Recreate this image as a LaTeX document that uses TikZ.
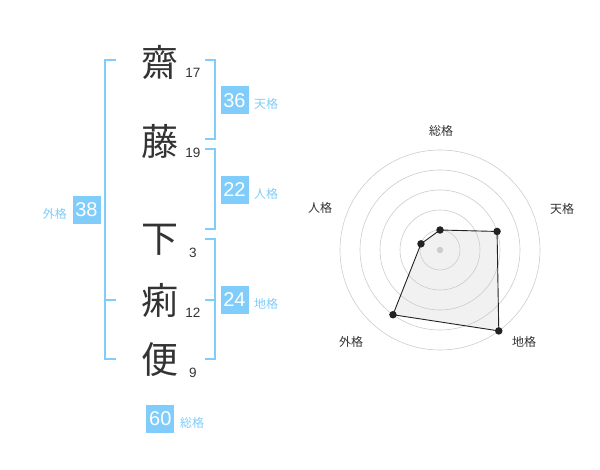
\documentclass[tikz,border=0pt]{standalone}
\usepackage{fontspec}
\setmainfont{Noto Sans CJK JP}
\newfontfamily\numfont{Liberation Sans}
\usetikzlibrary{calc}
\definecolor{kblue}{HTML}{80CCFA}
\definecolor{ktext}{HTML}{333333}
\definecolor{kgrid}{HTML}{CCCCCC}
\definecolor{kfill}{HTML}{F1F1F1}
\definecolor{kline}{HTML}{222222}
\tikzset{
  kanji/.style={font=\fontsize{37}{37}\selectfont, text=ktext, inner sep=0pt},
  strokes/.style={font=\numfont\fontsize{13.5}{13.5}\selectfont, text=ktext, inner sep=0pt},
  scorebox/.style={fill=kblue, text=white, minimum width=28pt, minimum height=28pt, inner sep=0pt, font=\numfont\fontsize{20}{20}\selectfont},
  kakulabel/.style={text=kblue, inner sep=0pt, font=\fontsize{12}{12}\selectfont},
  bracket/.style={draw=kblue, line width=2pt},
  radlabel/.style={text=ktext, inner sep=0pt, font=\fontsize{12}{12}\selectfont},
  ring/.style={draw=kgrid, line width=0.6pt},
  dot/.style={circle, fill=kline, inner sep=0pt, minimum size=7.5pt},
}
\begin{document}
\begin{tikzpicture}[x=1pt,y=-1pt]
\useasboundingbox (0,0) rectangle (600,470);
% kanji
\node[kanji] (k1) at (160,62) {齋};
\node[kanji] (k2) at (160,141) {藤};
\node[kanji] (k3) at (160,240) {下};
\node[kanji] (k4) at (160,300) {痢};
\node[kanji] (k5) at (160,360) {便};
\node[strokes] (s1) at (193,73) {17};
\node[strokes] (s2) at (193,153) {19};
\node[strokes] (s3) at (193,253) {3};
\node[strokes] (s4) at (193,313) {12};
\node[strokes] (s5) at (193,373) {9};
% brackets
\draw[bracket] (116,60) -- (105,60) -- (105,359.5) -- (116,359.5);
\draw[bracket] (105,300) -- (116,300);
\draw[bracket] (205,60) -- (214.5,60) -- (214.5,139.5) -- (205,139.5);
\draw[bracket] (205,149.5) -- (214.5,149.5) -- (214.5,229.5) -- (205,229.5);
\draw[bracket] (205,239.5) -- (214.5,239.5) -- (214.5,359.5) -- (205,359.5);
\draw[bracket] (205,300) -- (214.5,300);
% score boxes
\node[scorebox] (ten) at (234.5,100.5) {36};
\node[kakulabel, anchor=west] (tenl) at (254,104) {天格};
\node[scorebox] (jin) at (234.5,190) {22};
\node[kakulabel, anchor=west] (jinl) at (254,194) {人格};
\node[scorebox] (chi) at (234.5,300) {24};
\node[kakulabel, anchor=west] (chil) at (254,304) {地格};
\node[scorebox] (gai) at (86.5,210) {38};
\node[kakulabel, anchor=east] (gail) at (67,213.5) {外格};
\node[scorebox] (sou) at (160.3,419) {60};
\node[kakulabel, anchor=west] (soul) at (180,422.5) {総格};
% radar
\coordinate (c) at (440,250);
\coordinate (pS) at ($(c)+(-90:20)$);
\coordinate (pT) at ($(c)+(-18:60)$);
\coordinate (pC) at ($(c)+(54:100)$);
\coordinate (pG) at ($(c)+(126:80)$);
\coordinate (pJ) at ($(c)+(198:20)$);
\fill[kfill] (pS) -- (pT) -- (pC) -- (pG) -- (pJ) -- cycle;
\foreach \r in {20,40,60,80,100} \draw[ring] (c) circle[radius=\r];
\fill[kgrid] (c) circle[radius=3.2];
\draw[kline, line width=0.9pt] (pS) -- (pT) -- (pC) -- (pG) -- (pJ) -- cycle;
\foreach \p in {pS,pT,pC,pG,pJ} \node[dot] at (\p) {};
\node[radlabel] (rS) at (441,131) {総格};
\node[radlabel] (rT) at (562,209) {天格};
\node[radlabel] (rC) at (524,342) {地格};
\node[radlabel] (rG) at (351,342) {外格};
\node[radlabel] (rJ) at (320,208) {人格};
\end{tikzpicture}
\end{document}
